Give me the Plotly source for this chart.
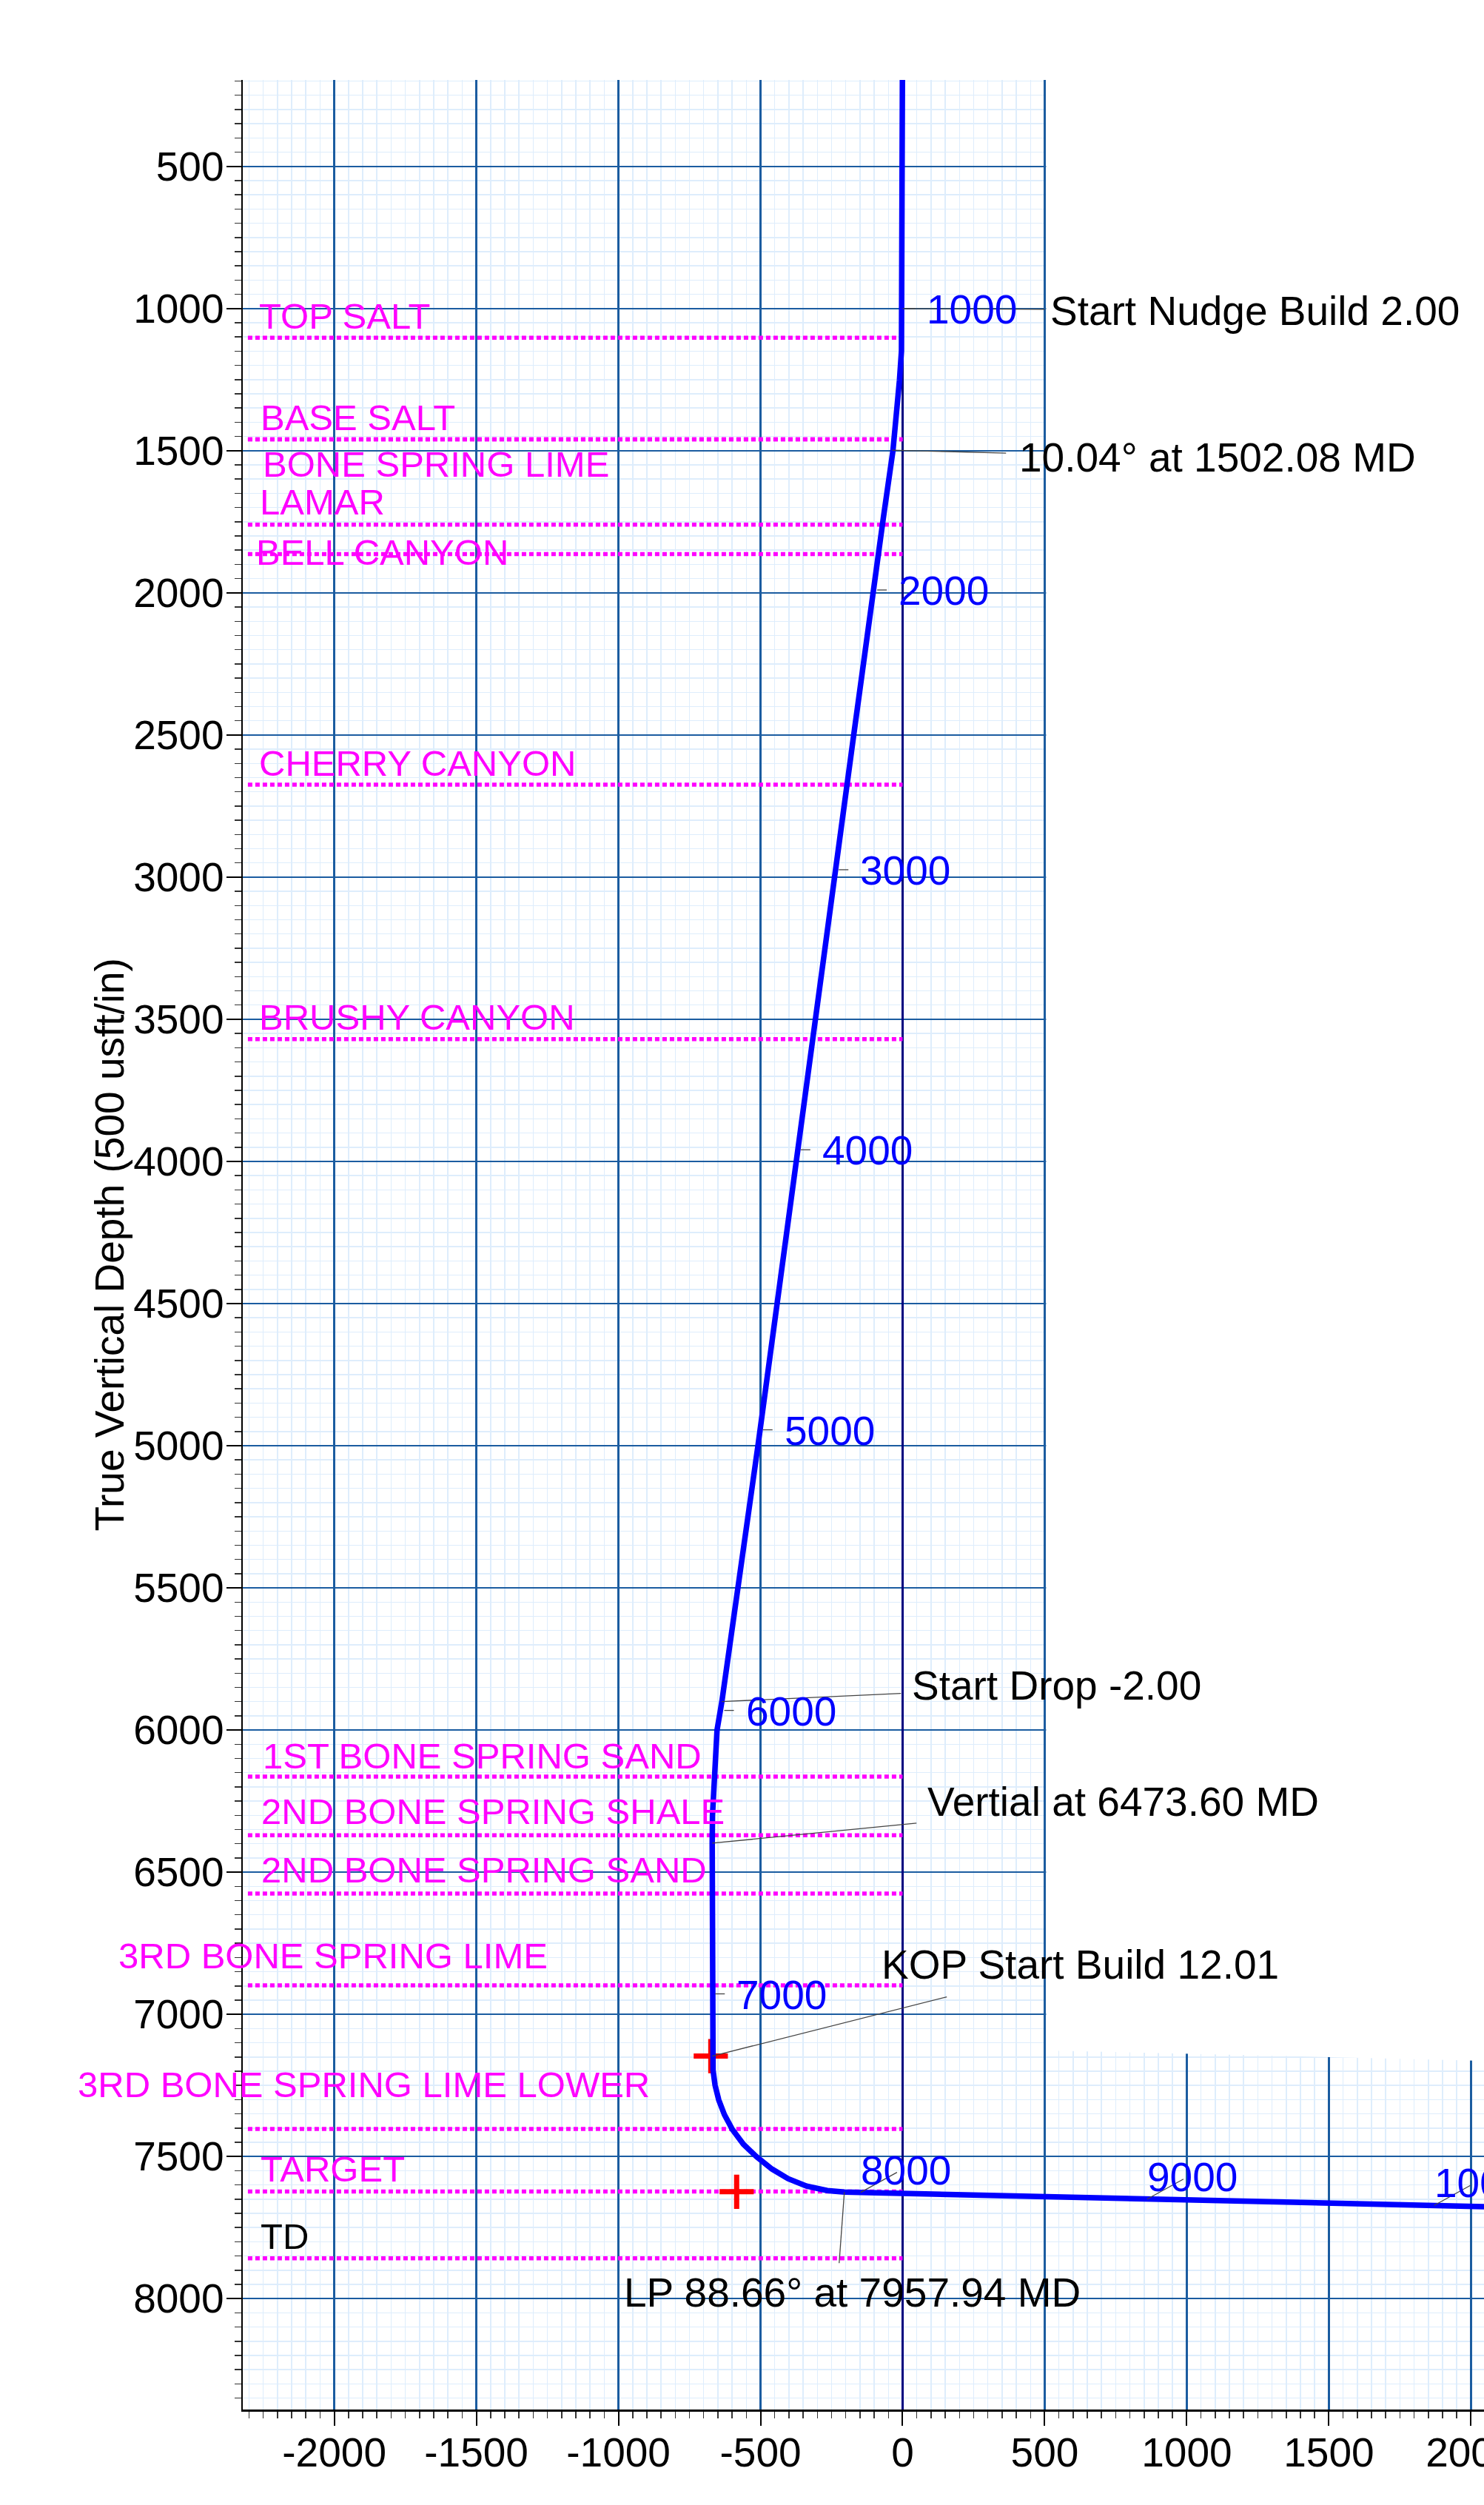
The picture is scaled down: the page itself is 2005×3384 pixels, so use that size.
import plotly.graph_objects as go

# ---------------- data ----------------
# Well path: vertical section (usft) and true vertical depth (usft)
well_vs = [0, 0, -4, -11, -21, -34, -68, -105, -172, -509, -580, -636, -653, -664, -669, -670,
           -670, -667, -660, -647, -627, -599, -560, -515, -460, -403, -338, -265, -205,
           0, 1000, 2000, 2060]
well_tvd = [0, 1000, 1150, 1252, 1382, 1500, 1738, 2000, 2500, 5000, 5513, 5900, 6000, 6164, 6300, 6400,
            7147, 7197, 7249, 7301, 7353, 7405, 7457, 7500, 7544, 7578, 7604, 7620, 7625,
            7630, 7653, 7676, 7677]

# Formation tops (TVD)
formation_names = ["TOP SALT", "BASE SALT", "BONE SPRING LIME", "LAMAR", "BELL CANYON",
                   "CHERRY CANYON", "BRUSHY CANYON", "1ST BONE SPRING SAND",
                   "2ND BONE SPRING SHALE", "2ND BONE SPRING SAND", "3RD BONE SPRING LIME",
                   "3RD BONE SPRING LIME LOWER", "TARGET", "TD"]
formation_tvd = [1103, 1460, 1460, 1760, 1864, 2675, 3570, 6164, 6370, 6575, 6898,
                 7403, 7623, 7858]

# Measured-depth markers along the path
md_labels = ["1000", "2000", "3000", "4000", "5000", "6000", "7000", "8000", "9000", "10000"]
md_vs = [0, -100, -235, -369, -502, -638, -670, -163, 845, 1855]
md_tvd = [1000, 1990, 2974, 3959, 4944, 5931, 6928, 7626, 7650, 7672]

# Plan events
event_labels = ["Start Nudge Build 2.00", "10.04° at 1502.08 MD", "Start Drop -2.00",
                "Vertial at 6473.60 MD", "KOP Start Build 12.01", "LP 88.66° at 7957.94 MD"]
event_vs = [0, -37, -636, -670, -670, -205]
event_tvd = [1000, 1498, 5900, 6398, 7147, 7625]

# Red cross markers (KOP, target)
cross_vs = [-675, -584]
cross_tvd = [7147, 7624]

# Axis ticks
x_ticks = [-2000, -1500, -1000, -500, 0, 500, 1000, 1500, 2000]
y_ticks = [500, 1000, 1500, 2000, 2500, 3000, 3500, 4000, 4500, 5000, 5500, 6000, 6500, 7000, 7500, 8000]

# ---------------- layout constants ----------------
W, H = 2005, 3384
ML, MR, MT, MB = 328, 0, 108, 129
XR = [-2322, 2046]
YR = [8390, 196]
FONT = "Liberation Sans, Arial, sans-serif"
MAGENTA = "#ff00ff"
BLUE = "#0000ff"
GRID = "#1b5ca0"
MINOR = "#deedfc"
LEADER = "#444444"
FORM_X0, FORM_X1 = -2304, 0


def xpaper(v):
    return (v - XR[0]) / (XR[1] - XR[0])


fig = go.Figure()

# formation dotted lines
fx, fy = [], []
for d in formation_tvd:
    fx += [FORM_X0, FORM_X1, None]
    fy += [d, d, None]
fig.add_trace(go.Scatter(x=fx, y=fy, mode="lines", hoverinfo="skip",
                         line=dict(color=MAGENTA, width=5.5, dash="6px,4px")))

# red crosses
fig.add_trace(go.Scatter(x=cross_vs, y=cross_tvd, mode="markers", hoverinfo="skip",
                         marker=dict(symbol="cross-thin", size=33,
                                     line=dict(color="#ff0000", width=7))))

# well path
fig.add_trace(go.Scatter(x=well_vs, y=well_tvd, mode="lines", hoverinfo="skip",
                         line=dict(color=BLUE, width=7.5)))

shapes = []
# white area with no grid (upper right)
shapes.append(dict(type="path", xref="x", yref="y", layer="between",
                   path="M 505,150 L 2200,150 L 2200,7167 L 505,7127 Z",
                   fillcolor="white", line=dict(width=0)))

annotations = []

# formation labels (left x in data units, centre TVD)
form_label_pos = [(-2269, 1026), (-2265, 1382), (-2257, 1548), (-2267, 1680), (-2281, 1858),
                  (-2271, 2599), (-2271, 3492), (-2258, 6090), (-2262, 6287), (-2262, 6492),
                  (-2766, 6793), (-2908, 7247), (-2266, 7544), (-2266, 7781)]
for name, (lx, ly) in zip(formation_names, form_label_pos):
    annotations.append(dict(x=xpaper(lx), xref="paper", y=ly, yref="y", text=name,
                            showarrow=False, xanchor="left", yanchor="middle",
                            font=dict(family=FONT, size=49,
                                      color="black" if name == "TD" else MAGENTA)))

# MD labels + short leaders
for i, (lab, mx, my) in enumerate(zip(md_labels, md_vs, md_tvd)):
    lateral = i >= 7
    if lateral:
        lead = (6, 0, 55, 27)     # x0, y0(up), x1, y1(up) px
        shift = (4, 30)
    else:
        lead = (4, 0, 17, 0)
        shift = (31, -1)
    shapes.append(dict(type="line", xref="x", yref="y", xsizemode="pixel", ysizemode="pixel",
                       xanchor=mx, yanchor=my, x0=lead[0], y0=lead[1], x1=lead[2], y1=lead[3],
                       line=dict(color=LEADER, width=1.3)))
    annotations.append(dict(x=mx, y=my, xref="x", yref="y", text=lab, showarrow=False,
                            xanchor="left", yanchor="middle", xshift=shift[0], yshift=shift[1],
                            font=dict(family=FONT, size=55, color=BLUE)))

# event labels + leaders
event_leader_px = [(192, 1), (154, 4), (242, -11), (276, -27), (317, -80), (-7, 96)]
event_text_pos = [(514, 1009), (406, 1523), (28, 5843), (83, 6253), (-79, 6826), (-986, 7978)]
for lab, ex, ey, (ldx, ldy), (tx, ty) in zip(event_labels, event_vs, event_tvd,
                                             event_leader_px, event_text_pos):
    shapes.append(dict(type="line", xref="x", yref="y", xsizemode="pixel", ysizemode="pixel",
                       xanchor=ex, yanchor=ey, x0=0, y0=0, x1=ldx, y1=-ldy,
                       line=dict(color=LEADER, width=1.3)))
    annotations.append(dict(x=tx, y=ty, xref="x", yref="y", text=lab, showarrow=False,
                            xanchor="left", yanchor="middle",
                            font=dict(family=FONT, size=55, color="black")))

# y-axis title
annotations.append(dict(x=(147 - ML) / (W - ML - MR), y=0.5, xref="paper", yref="paper",
                        text="True Vertical Depth (500 usft/in)", textangle=-90,
                        showarrow=False, xanchor="center", yanchor="middle",
                        font=dict(family=FONT, size=55, color="black")))

axis_common = dict(
    showgrid=True, gridcolor=GRID, gridwidth=2.5,
    showline=True, linecolor="black", linewidth=2.5,
    ticks="outside", tickcolor="black", tickwidth=2,
    tickfont=dict(family=FONT, size=55, color="black"),
    minor=dict(dtick=50, tick0=0, showgrid=True, gridcolor=MINOR, gridwidth=1.5,
               ticks="outside", ticklen=9, tickwidth=1.5, tickcolor="#333333"),
    ticklabeloverflow="allow",
    automargin=False,
)

fig.update_layout(
    width=W, height=H,
    margin=dict(l=ML, r=MR, t=MT, b=MB, pad=0, autoexpand=False),
    paper_bgcolor="white", plot_bgcolor="white",
    showlegend=False,
    xaxis=dict(range=XR, tickmode="array", tickvals=x_ticks, ticktext=[str(v) for v in x_ticks],
               zeroline=True, zerolinecolor="#00007f", zerolinewidth=3,
               ticklen=19, ticklabelstandoff=-11, **axis_common),
    yaxis=dict(range=YR, tickmode="array", tickvals=y_ticks, ticktext=[str(v) for v in y_ticks],
               zeroline=False, ticklen=20, ticklabelstandoff=-8, **axis_common),
    shapes=shapes,
    annotations=annotations,
)

fig.write_html("out.html", include_plotlyjs=True,
               config={"displayModeBar": False, "staticPlot": True},
               post_script="document.body.style.margin='0';document.body.style.overflow='hidden';")
